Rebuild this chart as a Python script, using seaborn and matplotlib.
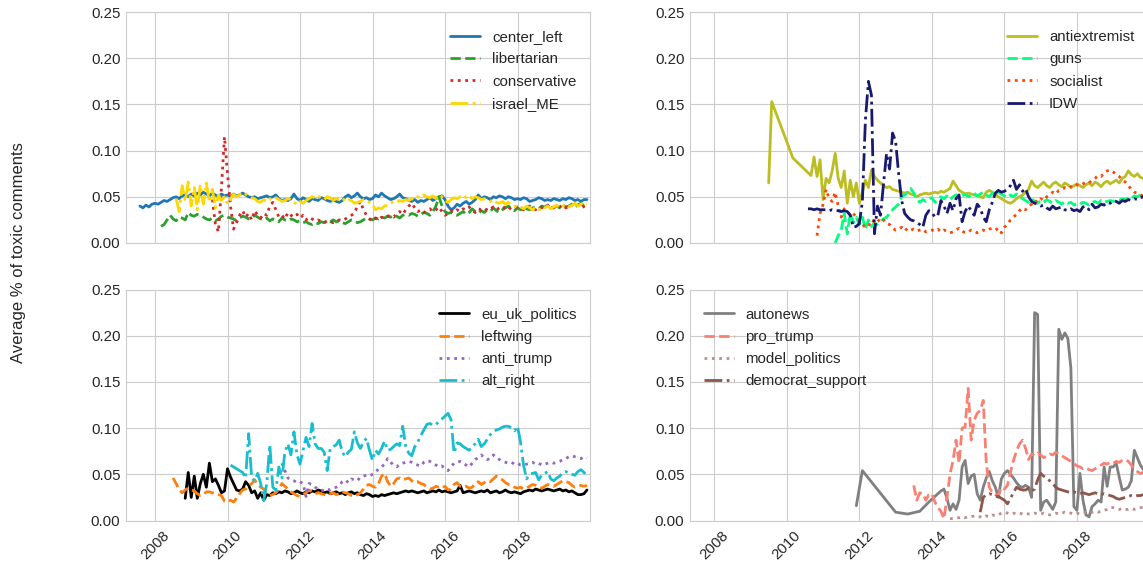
import numpy as np
import pandas as pd
import matplotlib
matplotlib.use('Agg')
import matplotlib.pyplot as plt
import seaborn as sns

nan = np.nan

# monthly averages, each list starts at the given month
center_left_start = '2007-08'
center_left = [0.040, 0.038, 0.041, 0.039, 0.042,
    0.043, 0.042, 0.044, 0.046, 0.045, 0.047, 0.049, 0.050, 0.048, 0.051, 0.052, 0.050,
    0.053, 0.051, 0.054, 0.052, 0.055, 0.053, 0.051, 0.054, 0.052, 0.050, 0.053, 0.051,
    0.052, 0.050, 0.053, 0.051, 0.052, 0.054, 0.052, 0.050, 0.049, 0.050, 0.048, 0.049,
    0.050, 0.051, 0.049, 0.050, 0.052, 0.048, 0.046, 0.047, 0.046, 0.048, 0.053, 0.048,
    0.046, 0.049, 0.047, 0.045, 0.048, 0.047, 0.046, 0.049, 0.048, 0.046, 0.045, 0.047,
    0.045, 0.044, 0.046, 0.050, 0.052, 0.049, 0.051, 0.054, 0.050, 0.048, 0.049, 0.047,
    0.048, 0.052, 0.050, 0.054, 0.051, 0.049, 0.047, 0.048, 0.050, 0.053, 0.049, 0.048,
    0.046, 0.045, 0.047, 0.044, 0.046, 0.045, 0.047, 0.049, 0.046, 0.048, 0.050, 0.051,
    0.047, 0.040, 0.036, 0.038, 0.042, 0.040, 0.043, 0.045, 0.042, 0.044, 0.047, 0.052,
    0.048, 0.050, 0.049, 0.047, 0.050, 0.049, 0.051, 0.050, 0.048, 0.050, 0.049, 0.047,
    0.048, 0.047, 0.049, 0.048, 0.045, 0.046, 0.047, 0.049, 0.048, 0.046, 0.047, 0.046,
    0.048, 0.047, 0.046, 0.048, 0.047, 0.049, 0.048, 0.046, 0.047, 0.045, 0.047, 0.047]

libertarian_start = '2008-03'
libertarian = [0.018, 0.020, 0.025, 0.030, 0.026, 0.024, 0.028, 0.027, 0.025, 0.033,
    0.030, 0.029, 0.031, 0.030, 0.028, 0.026, 0.025, 0.027, 0.024, 0.026, 0.029, 0.030,
    0.028, 0.027, 0.026, 0.024, 0.027, 0.029, 0.028, 0.026, 0.027, 0.030, 0.028, 0.026,
    0.025, 0.027, 0.024, 0.026, 0.025, 0.023, 0.027, 0.025, 0.024, 0.026, 0.025, 0.023,
    0.024, 0.022, 0.023, 0.021, 0.020, 0.022, 0.021, 0.023, 0.022, 0.024, 0.023, 0.025,
    0.023, 0.024, 0.022, 0.021, 0.023, 0.025, 0.024, 0.022, 0.023, 0.025, 0.027, 0.026,
    0.025, 0.027, 0.026, 0.028, 0.027, 0.029, 0.028, 0.030, 0.029, 0.027, 0.030, 0.031,
    0.030, 0.032, 0.031, 0.029, 0.031, 0.033, 0.032, 0.030, 0.034, 0.040, 0.050, 0.040,
    0.034, 0.032, 0.033, 0.031, 0.030, 0.032, 0.034, 0.031, 0.033, 0.037, 0.034, 0.032,
    0.035, 0.033, 0.036, 0.034, 0.038, 0.035, 0.033, 0.036, 0.038, 0.040, 0.037, 0.035,
    0.038, 0.036, 0.039, 0.037, 0.036, 0.038, 0.039, 0.037, 0.040, 0.039, 0.041, 0.038,
    0.039, 0.040, 0.038, 0.041, 0.039, 0.040, 0.042, 0.039, 0.041, 0.043, 0.040, 0.038]

conservative_start = '2009-08'
conservative = [0.047, 0.020, 0.012, 0.060, 0.115,
    0.075, 0.040, 0.015, 0.022, 0.030, 0.035, 0.028, 0.032, 0.025, 0.035, 0.030, 0.027,
    0.032, 0.030, 0.040, 0.044, 0.036, 0.028, 0.030, 0.026, 0.033, 0.030, 0.028, 0.031,
    0.027, 0.030, 0.025, 0.028, 0.026, 0.024, 0.025, 0.023, 0.022, 0.024, 0.023, 0.022,
    0.023, 0.025, 0.024, 0.026, 0.028, 0.030, 0.032, 0.040, 0.045, 0.036, 0.030, 0.026,
    0.024, 0.027, 0.025, 0.028, 0.027, 0.029, 0.030, 0.028, 0.032, 0.034, 0.031, 0.036,
    0.040, 0.043, 0.038, 0.034, 0.036, 0.033, 0.035, 0.037, 0.034, 0.036, 0.039, 0.034,
    0.030, 0.032, 0.035, 0.033, 0.036, 0.034, 0.037, 0.036, 0.039, 0.035, 0.033, 0.037,
    0.036, 0.038, 0.035, 0.037, 0.039, 0.036, 0.038, 0.040, 0.037, 0.039, 0.036, 0.038,
    0.039, 0.037, 0.036, 0.038, 0.040, 0.038, 0.036, 0.039, 0.038, 0.040, 0.041, 0.037,
    0.038, 0.040, 0.039, 0.041, 0.038, 0.040, 0.042, 0.039, 0.041, 0.043, 0.039, 0.036]

israel_ME_start = '2008-08'
israel_ME = [0.048, 0.034, 0.062, 0.045, 0.066,
    0.040, 0.060, 0.036, 0.063, 0.042, 0.065, 0.044, 0.058, 0.038, 0.052, 0.046, 0.050,
    0.042, 0.048, 0.053, 0.050, 0.052, 0.055, 0.053, 0.051, 0.049, 0.048, 0.045, 0.044,
    0.047, 0.045, 0.048, 0.046, 0.049, 0.047, 0.045, 0.046, 0.048, 0.047, 0.044, 0.042,
    0.045, 0.043, 0.046, 0.048, 0.050, 0.049, 0.051, 0.048, 0.047, 0.050, 0.049, 0.046,
    0.048, 0.047, 0.049, 0.045, 0.047, 0.046, 0.043, 0.044, 0.045, 0.047, 0.046, 0.044,
    0.042, 0.036, 0.038, 0.037, 0.040, 0.041, 0.043, 0.045, 0.044, 0.046, 0.045, 0.047,
    0.046, 0.048, 0.047, 0.050, 0.049, 0.052, 0.050, 0.049, 0.051, 0.048, 0.052, 0.050,
    0.046, 0.044, 0.047, 0.049, 0.048, 0.050, 0.052, 0.049, 0.051, 0.048, 0.050, 0.049,
    0.047, 0.048, 0.046, 0.045, 0.047, 0.044, 0.043, 0.045, 0.042, 0.044, 0.041, 0.040,
    0.038, 0.039, 0.037, 0.040, 0.038, 0.036, 0.039, 0.037, 0.035, 0.038, 0.040, 0.037,
    0.039, 0.041, 0.038, 0.040, 0.042, 0.039, 0.041, 0.043, 0.040, 0.042, 0.044, 0.042]

antiextremist_start = '2009-07'
antiextremist = [0.065, 0.153, nan, nan, nan, nan,
    nan, nan, 0.092, nan, nan, nan, nan, nan, 0.073, 0.093, 0.072, 0.090,
    0.047, 0.070, 0.065, 0.078, 0.097, 0.070, 0.060, 0.078, 0.043, 0.068, 0.050, 0.065,
    0.043, 0.055, 0.068, 0.060, 0.079, 0.072, 0.068, 0.065, 0.062, 0.060, 0.061, 0.058,
    0.057, 0.056, 0.055, 0.054, 0.055, 0.053, 0.052, 0.050, 0.052, 0.053, 0.054, 0.053,
    0.054, 0.055, 0.054, 0.056, 0.055, 0.057, 0.059, 0.067, 0.062, 0.057, 0.055, 0.053,
    0.054, 0.053, 0.052, 0.051, 0.050, 0.049, 0.055, 0.057, 0.055, 0.053, 0.050, 0.048,
    0.046, 0.044, 0.043, 0.045, 0.048, 0.050, 0.052, 0.055, 0.058, 0.067, 0.062, 0.060,
    0.063, 0.066, 0.062, 0.060, 0.064, 0.066, 0.063, 0.061, 0.065, 0.063, 0.060, 0.062,
    0.064, 0.062, 0.060, 0.063, 0.065, 0.062, 0.066, 0.064, 0.061, 0.065, 0.067, 0.064,
    0.066, 0.068, 0.065, 0.070, 0.072, 0.078, 0.074, 0.072, 0.075, 0.071, 0.070, 0.068]

guns_start = '2011-05'
guns = [0.000, 0.008, 0.014, 0.032, 0.010, 0.032, 0.022, 0.028,
    0.020, 0.028, 0.015, 0.025, 0.018, 0.022, 0.020, 0.024, 0.026, 0.028, 0.032, 0.036,
    0.039, 0.042, 0.050, 0.052, 0.055, 0.059, 0.054, 0.048, 0.044, 0.047, 0.045, 0.048,
    0.049, 0.044, 0.047, 0.050, 0.048, 0.051, 0.047, 0.050, 0.052, 0.049, 0.051, 0.053,
    0.050, 0.052, 0.054, 0.051, 0.053, 0.055, 0.052, 0.050, 0.054, 0.052, 0.055, 0.053,
    0.051, 0.049, 0.052, 0.050, 0.053, 0.051, 0.048, 0.046, 0.044, 0.048, 0.045, 0.043,
    0.046, 0.044, 0.047, 0.045, 0.043, 0.046, 0.044, 0.042, 0.045, 0.043, 0.044, 0.041,
    0.043, 0.042, 0.044, 0.043, 0.041, 0.044, 0.045, 0.043, 0.046, 0.044, 0.045, 0.046,
    0.045, 0.047, 0.046, 0.048, 0.047, 0.049, 0.048, 0.051, 0.050, 0.052, 0.054, 0.054]

socialist_start = '2010-11'
socialist = [0.008, 0.032,
    0.042, 0.058, 0.048, 0.045, 0.055, 0.040, 0.028, 0.037, 0.034, 0.030, 0.032, 0.028,
    0.024, 0.020, 0.017, 0.018, 0.025, 0.023, 0.026, 0.022, 0.025, 0.021, 0.020, 0.016,
    0.014, 0.015, 0.017, 0.013, 0.016, 0.014, 0.015, 0.013, 0.014, 0.015, 0.012, 0.013,
    0.014, 0.013, 0.015, 0.012, 0.014, 0.013, 0.011, 0.012, 0.014, 0.016, 0.013, 0.011,
    0.012, 0.014, 0.013, 0.011, 0.012, 0.014, 0.013, 0.015, 0.016, 0.014, 0.016, 0.011,
    0.017, 0.020, 0.025, 0.028, 0.031, 0.035, 0.038, 0.036, 0.040, 0.042, 0.046, 0.044,
    0.048, 0.046, 0.050, 0.052, 0.055, 0.053, 0.057, 0.058, 0.060, 0.059, 0.061, 0.060,
    0.063, 0.062, 0.064, 0.066, 0.065, 0.068, 0.070, 0.073, 0.072, 0.076, 0.078, 0.079,
    0.077, 0.074, 0.072, 0.068, 0.066, 0.062, 0.058, 0.055, 0.054, 0.052, 0.051, 0.050]

IDW_start = '2010-08'
IDW = [0.037, 0.037, 0.036, 0.037, 0.036,
    0.036, 0.036, 0.035, 0.036, 0.035, 0.035, 0.034, 0.035, 0.034, 0.030, 0.017, 0.018,
    0.021, 0.045, 0.133, 0.175, 0.160, 0.010, 0.040, 0.030, 0.064, 0.097, 0.080, 0.119,
    0.110, 0.075, 0.046, 0.032, 0.028, 0.025, 0.024, 0.022, 0.020, 0.017, 0.030, 0.035,
    0.033, 0.028, 0.030, 0.046, 0.040, 0.032, 0.043, 0.035, 0.048, 0.052, 0.023, 0.034,
    0.040, 0.035, 0.030, 0.042, 0.038, 0.028, 0.023, 0.036, 0.044, 0.054, 0.057, 0.055,
    0.056, 0.058, 0.062, 0.068, 0.058, 0.063, 0.056, 0.059, 0.050, 0.045, 0.043, 0.042,
    0.040, 0.041, 0.038, 0.036, 0.040, 0.037, 0.038, 0.039, 0.036, 0.035, 0.037, 0.035,
    0.036, 0.034, 0.039, 0.040, 0.036, 0.042, 0.038, 0.039, 0.042, 0.041, 0.044, 0.043,
    0.046, 0.045, 0.043, 0.046, 0.045, 0.047, 0.046, 0.048, 0.047, 0.049, 0.050, 0.054]

eu_uk_politics_start = '2008-11'
eu_uk_politics = [0.024, 0.052,
    0.025, 0.048, 0.024, 0.040, 0.050, 0.036, 0.062, 0.042, 0.045, 0.038, 0.030, 0.032,
    0.056, 0.047, 0.040, 0.033, 0.032, 0.034, 0.042, 0.038, 0.030, 0.032, 0.024, 0.030,
    0.022, 0.028, 0.027, 0.030, 0.029, 0.031, 0.030, 0.032, 0.031, 0.029, 0.030, 0.032,
    0.030, 0.029, 0.031, 0.030, 0.032, 0.031, 0.033, 0.032, 0.030, 0.031, 0.029, 0.030,
    0.031, 0.029, 0.030, 0.028, 0.030, 0.031, 0.029, 0.030, 0.028, 0.027, 0.029, 0.028,
    0.026, 0.027, 0.026, 0.028, 0.027, 0.028, 0.029, 0.030, 0.029, 0.030, 0.031, 0.032,
    0.031, 0.032, 0.031, 0.030, 0.031, 0.032, 0.030, 0.031, 0.032, 0.031, 0.033, 0.031,
    0.032, 0.031, 0.030, 0.031, 0.032, 0.038, 0.030, 0.031, 0.032, 0.031, 0.030, 0.031,
    0.032, 0.031, 0.033, 0.030, 0.031, 0.032, 0.030, 0.031, 0.033, 0.031, 0.030, 0.031,
    0.030, 0.029, 0.031, 0.032, 0.033, 0.032, 0.034, 0.033, 0.032, 0.033, 0.034, 0.033,
    0.032, 0.033, 0.034, 0.032, 0.033, 0.031, 0.032, 0.030, 0.028, 0.028, 0.029, 0.033]

leftwing_start = '2008-07'
leftwing = [0.046, 0.040, 0.033, 0.030, 0.033, 0.035,
    0.033, 0.032, 0.029, 0.027, 0.028, 0.031, 0.031, 0.030, 0.029, 0.028, 0.027, 0.021,
    0.020, 0.022, 0.020, 0.024, 0.029, 0.033, 0.034, 0.037, 0.040, 0.044, 0.039, 0.036,
    0.034, 0.029, 0.027, 0.028, 0.030, 0.034, 0.040, 0.037, 0.034, 0.031, 0.029, 0.027,
    0.026, 0.028, 0.030, 0.033, 0.031, 0.029, 0.030, 0.029, 0.028, 0.027, 0.029, 0.030,
    0.028, 0.029, 0.031, 0.030, 0.029, 0.027, 0.026, 0.028, 0.030, 0.034, 0.038, 0.039,
    0.037, 0.036, 0.040, 0.048, 0.051, 0.042, 0.037, 0.040, 0.045, 0.046, 0.044, 0.045,
    0.046, 0.043, 0.041, 0.042, 0.040, 0.039, 0.036, 0.034, 0.035, 0.037, 0.036, 0.035,
    0.037, 0.033, 0.034, 0.039, 0.041, 0.037, 0.036, 0.037, 0.035, 0.036, 0.040, 0.042,
    0.039, 0.041, 0.043, 0.042, 0.045, 0.048, 0.046, 0.044, 0.041, 0.039, 0.038, 0.036,
    0.035, 0.036, 0.034, 0.035, 0.037, 0.039, 0.038, 0.036, 0.035, 0.037, 0.039, 0.038,
    0.037, 0.039, 0.041, 0.043, 0.042, 0.041, 0.038, 0.036, 0.037, 0.038, 0.037, 0.038]

anti_trump_start = '2011-07'
anti_trump = [0.062, 0.054, 0.046, 0.044, 0.043, 0.041,
    0.042, 0.040, 0.026, 0.040, 0.039, 0.036, 0.034, 0.033, 0.032, 0.034, 0.033, 0.035,
    0.036, 0.038, 0.042, 0.044, 0.041, 0.045, 0.044, 0.043, 0.047, 0.048, 0.049, 0.048,
    0.050, 0.052, 0.056, 0.058, 0.061, 0.067, 0.063, 0.060, 0.058, 0.061, 0.062, 0.063,
    0.064, 0.063, 0.061, 0.060, 0.059, 0.063, 0.065, 0.064, 0.062, 0.060, 0.058, 0.059,
    0.056, 0.054, 0.058, 0.062, 0.063, 0.064, 0.062, 0.060, 0.058, 0.062, 0.066, 0.068,
    0.071, 0.068, 0.066, 0.067, 0.071, 0.068, 0.066, 0.064, 0.063, 0.062, 0.063, 0.061,
    0.062, 0.060, 0.060, 0.061, 0.062, 0.063, 0.061, 0.062, 0.060, 0.061, 0.062, 0.063,
    0.062, 0.063, 0.064, 0.066, 0.067, 0.069, 0.070, 0.069, 0.068, 0.067, 0.069, 0.068]

alt_right_start = '2010-02'
alt_right = [0.060, 0.058, 0.056, 0.054, 0.052, 0.046, 0.094, 0.046, 0.043, 0.051, 0.040,
    0.022, 0.040, 0.082, 0.036, 0.033, 0.058, 0.045, 0.074, 0.083, 0.071, 0.096, 0.071,
    0.061, 0.076, 0.090, 0.080, 0.105, 0.083, 0.078, 0.078, 0.074, 0.054, 0.078, 0.080,
    0.082, 0.087, 0.074, 0.069, 0.074, 0.077, 0.096, 0.084, 0.078, 0.085, 0.089, 0.076,
    0.065, 0.076, 0.072, 0.078, 0.086, 0.076, 0.077, 0.080, 0.083, 0.081, 0.102, 0.080,
    0.073, 0.070, 0.080, 0.085, 0.092, 0.098, 0.104, 0.105, 0.103, 0.104, 0.107, 0.110,
    0.113, 0.116, 0.109, 0.073, 0.084, 0.083, 0.080, 0.078, 0.076, 0.080, 0.083, 0.088,
    0.080, 0.083, 0.088, 0.093, 0.096, 0.098, 0.099, 0.101, 0.102, 0.102, 0.100, 0.097,
    0.102, 0.085, 0.060, 0.045, 0.050, 0.051, 0.052, 0.044, 0.049, 0.051, 0.053, 0.045,
    0.043, 0.046, 0.048, 0.052, 0.053, 0.051, 0.050, 0.049, 0.053, 0.055, 0.052, 0.049]

autonews_start = '2011-12'
autonews = [0.016,
    nan, 0.054, nan, nan, nan, nan, nan, nan, nan, nan, nan, nan,
    0.009, nan, nan, nan, 0.007, nan, nan, nan, 0.010, nan, nan, 0.020,
    nan, nan, nan, 0.032, 0.034, 0.024, 0.011, 0.018, 0.012, 0.022, 0.058, 0.065,
    0.040, 0.048, 0.050, 0.029, 0.022, 0.036, 0.046, 0.053, 0.043, 0.036, 0.025, 0.045,
    0.051, 0.054, 0.050, 0.046, 0.041, 0.037, 0.036, 0.038, 0.036, 0.025, 0.225, 0.223,
    0.011, 0.020, 0.022, 0.017, 0.012, 0.020, 0.207, 0.196, 0.203, 0.197, 0.165, 0.015,
    0.011, 0.051, 0.022, 0.006, 0.004, 0.015, 0.018, 0.022, 0.020, 0.058, 0.037, 0.058,
    0.058, 0.062, 0.047, 0.033, 0.034, 0.036, 0.043, 0.076, 0.068, 0.060, 0.055, 0.050]

pro_trump_start = '2013-07'
pro_trump = [0.038, 0.022, 0.030, 0.029, 0.022, 0.028,
    0.029, 0.020, 0.014, 0.010, 0.002, 0.025, 0.050, 0.065, 0.087, 0.062, 0.100, 0.101,
    0.143, 0.087, 0.109, 0.116, 0.119, 0.130, 0.062, 0.036, 0.030, 0.028, 0.027, 0.036,
    0.034, 0.038, 0.052, 0.065, 0.075, 0.083, 0.087, 0.078, 0.066, 0.072, 0.070, 0.073,
    0.071, 0.068, 0.070, 0.072, 0.071, 0.074, 0.072, 0.070, 0.068, 0.066, 0.064, 0.062,
    0.059, 0.058, 0.056, 0.057, 0.055, 0.054, 0.056, 0.058, 0.060, 0.062, 0.061, 0.063,
    0.062, 0.064, 0.063, 0.065, 0.066, 0.064, 0.060, 0.056, 0.053, 0.051, 0.052, 0.051]

model_politics_start = '2014-07'
model_politics = [0.002, 0.002, 0.003, 0.003, 0.004, 0.003,
    0.004, 0.004, 0.005, 0.004, 0.004, 0.003, 0.005, 0.004, 0.006, 0.005, 0.006, 0.008,
    0.009, 0.008, 0.007, 0.008, 0.007, 0.008, 0.007, 0.008, 0.007, 0.007, 0.008, 0.007,
    0.007, 0.008, 0.007, 0.006, 0.007, 0.008, 0.007, 0.008, 0.009, 0.008, 0.008, 0.007,
    0.008, 0.007, 0.008, 0.009, 0.008, 0.009, 0.010, 0.009, 0.010, 0.011, 0.012, 0.014,
    0.014, 0.013, 0.012, 0.013, 0.012, 0.012, 0.013, 0.012, 0.013, 0.014, 0.014, 0.015]

democrat_support_start = '2015-05'
democrat_support = [0.009, 0.025, 0.028, 0.029, 0.028, 0.026, 0.026, 0.024,
    0.022, 0.018, 0.024, 0.030, 0.036, 0.034, 0.033, 0.033, 0.035, 0.032, 0.034, 0.044,
    0.051, 0.048, 0.046, 0.043, 0.040, 0.036, 0.034, 0.033, 0.032, 0.031, 0.030, 0.031,
    0.030, 0.029, 0.030, 0.029, 0.028, 0.029, 0.030, 0.029, 0.028, 0.029, 0.028, 0.027,
    0.026, 0.024, 0.023, 0.024, 0.025, 0.026, 0.027, 0.026, 0.027, 0.027, 0.028, 0.028]

panels = [
    [('center_left', center_left_start, center_left, '#1f77b4'),
     ('libertarian', libertarian_start, libertarian, '#2ca02c'),
     ('conservative', conservative_start, conservative, '#d62728'),
     ('israel_ME', israel_ME_start, israel_ME, 'gold')],
    [('antiextremist', antiextremist_start, antiextremist, '#bcbd22'),
     ('guns', guns_start, guns, 'springgreen'),
     ('socialist', socialist_start, socialist, 'orangered'),
     ('IDW', IDW_start, IDW, 'midnightblue')],
    [('eu_uk_politics', eu_uk_politics_start, eu_uk_politics, 'black'),
     ('leftwing', leftwing_start, leftwing, '#ff7f0e'),
     ('anti_trump', anti_trump_start, anti_trump, '#9467bd'),
     ('alt_right', alt_right_start, alt_right, '#17becf')],
    [('autonews', autonews_start, autonews, 'gray'),
     ('pro_trump', pro_trump_start, pro_trump, 'salmon'),
     ('model_politics', model_politics_start, model_politics, 'rosybrown'),
     ('democrat_support', democrat_support_start, democrat_support, '#8c564b')],
]
styles = ['-', '--', ':', '-.']
year_ticks = [2008, 2010, 2012, 2014, 2016, 2018]


def to_frame(start, values):
    y, m = map(int, start.split('-'))
    idx = np.arange(len(values)) + (m - 1)
    df = pd.DataFrame({'date': y + idx / 12, 'value': values})
    return df.dropna()


sns.set_style('whitegrid')
plt.rcParams['font.family'] = ['Liberation Sans', 'DejaVu Sans']

fig = plt.figure(figsize=(11.43, 5.62), dpi=100)
H = 231 / 562
# left, bottom, width per panel (in figure fractions)
boxes = [(126 / 1143, 319 / 562, 464 / 1143), (690 / 1143, 319 / 562, 458 / 1143),
         (126 / 1143, 41.5 / 562, 464 / 1143), (690 / 1143, 41.5 / 562, 458 / 1143)]
xlims = [(2007.2, 2020.0), (2007.33, 2019.96), (2007.2, 2020.0), (2007.33, 2019.96)]

for i, series in enumerate(panels):
    x0, y0, w = boxes[i]
    ax = fig.add_axes([x0, y0, w, H])
    for (name, start, vals, col), ls in zip(series, styles):
        d = to_frame(start, vals)
        sns.lineplot(data=d, x='date', y='value', ax=ax, color=col,
                     linestyle=ls, linewidth=2, label=name, estimator=None)
    ax.set_xlim(*xlims[i])
    ax.set_ylim(0, 0.25)
    ax.set_yticks([0, 0.05, 0.10, 0.15, 0.20, 0.25])
    ax.set_xticks(year_ticks)
    ax.set_xlabel('')
    ax.set_ylabel('')
    ax.tick_params(labelsize=10.8)
    ax.tick_params(axis='y', pad=0.5)
    ax.tick_params(axis='x', pad=2)
    if i < 2:
        ax.tick_params(labelbottom=False)
    else:
        ax.set_xticklabels([str(t) for t in year_ticks], rotation=45)
    if i == 3:
        ax.legend(loc='upper left', bbox_to_anchor=(0, 0.98), frameon=False,
                  fontsize=10.8, labelspacing=0.55)
    else:
        ax.legend(loc='upper right', bbox_to_anchor=(1, 0.98), frameon=False,
                  fontsize=10.8, labelspacing=0.55)

fig.text(0.016, 0.55, 'Average % of toxic comments', rotation=90,
         ha='center', va='center', fontsize=12, color='.15')

fig.savefig('out.png', dpi=100)
